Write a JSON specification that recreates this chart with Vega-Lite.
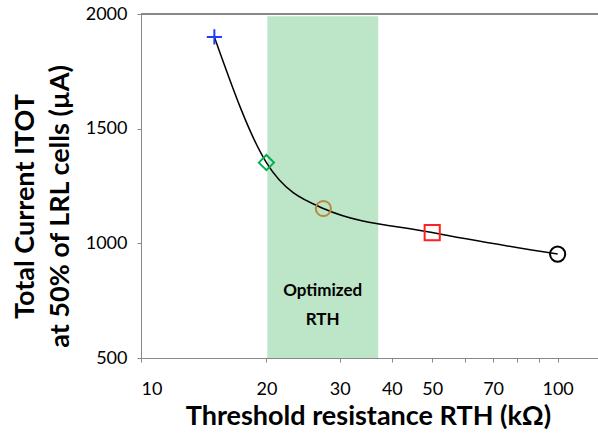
{
  "$schema": "https://vega.github.io/schema/vega-lite/v6.json",
  "autosize": {"type": "none"},
  "padding": {"left": 141, "top": 14, "right": 0, "bottom": 76},
  "width": 457,
  "height": 344,
  "config": {
    "font": "Lato",
    "view": {"stroke": null},
    "axis": {"grid": false, "domainColor": "#888888", "tickColor": "#888888", "labelColor": "#000000", "titleColor": "#000000"}
  },
  "datasets": {
    "pts": [
      {"r": 15, "i": 1900, "kind": "plus"},
      {"r": 20, "i": 1352, "kind": "diamond"},
      {"r": 27.4, "i": 1152, "kind": "circleBrown"},
      {"r": 50, "i": 1047, "kind": "square"},
      {"r": 100, "i": 953, "kind": "circleBlack"}
    ],
    "band": [{"r0": 20.1, "r1": 37.1, "i0": 500, "i1": 1990}],
    "labels": [{"r": 27.3, "i": 790, "label": "Optimized"}, {"r": 27.3, "i": 665, "label": "RTH"}]
  },
  "layer": [
    {
      "data": {"name": "band"},
      "mark": {"type": "rect", "color": "#bde5c8"},
      "encoding": {
        "x": {"field": "r0", "type": "quantitative", "scale": {"type": "log", "domain": [10, 125], "nice": false}},
        "x2": {"field": "r1"},
        "y": {"field": "i0", "type": "quantitative", "scale": {"domain": [500, 2000], "nice": false}},
        "y2": {"field": "i1"}
      }
    },
    {
      "data": {"name": "pts"},
      "mark": {"type": "line", "interpolate": "monotone", "color": "#000000", "strokeWidth": 1.5},
      "encoding": {
        "x": {
          "field": "r", "type": "quantitative",
          "scale": {"type": "log", "domain": [10, 125], "nice": false},
          "axis": {
            "values": [10, 20, 30, 40, 50, 60, 70, 80, 90, 100],
            "format": "d",
            "labelExpr": "indexof([60,80,90], datum.value) >= 0 ? '' : datum.label",
            "labelFontSize": 18, "labelPadding": 18, "tickSize": 4,
            "title": "Threshold resistance RTH (kΩ)",
            "titleFontSize": 27, "titleFontWeight": "bold",
            "titleX": 227, "titleY": 45, "titleAnchor": "middle", "titleBaseline": "top"
          }
        },
        "y": {
          "field": "i", "type": "quantitative",
          "scale": {"domain": [500, 2000], "nice": false},
          "axis": {
            "values": [500, 1000, 1500, 2000],
            "format": "d",
            "labelFontSize": 18, "labelPadding": 10, "tickSize": 4,
            "title": ["Total Current ITOT", "at 50% of LRL cells (µA)"],
            "titleFontSize": 27, "titleFontWeight": "bold", "titlePadding": 11, "titleLineHeight": 35,
            "titleY": 192
          }
        }
      }
    },
    {
      "data": {"name": "pts"},
      "mark": {"type": "point", "filled": false, "strokeWidth": 2, "opacity": 1},
      "encoding": {
        "x": {"field": "r", "type": "quantitative"},
        "y": {"field": "i", "type": "quantitative"},
        "shape": {
          "field": "kind", "type": "nominal",
          "scale": {"domain": ["plus", "diamond", "circleBrown", "square", "circleBlack"], "range": ["M-1,0H1M0,-1V1", "diamond", "circle", "square", "circle"]},
          "legend": null
        },
        "color": {
          "field": "kind", "type": "nominal",
          "scale": {"domain": ["plus", "diamond", "circleBrown", "square", "circleBlack"], "range": ["#1f3cff", "#00b050", "#b8893a", "#ff2020", "#000000"]},
          "legend": null
        },
        "size": {"value": 230}
      }
    },
    {
      "data": {"name": "pts"},
      "mark": {"type": "rule", "color": "#888888", "strokeWidth": 1.5},
      "encoding": {"y": {"datum": 2000}}
    },
    {
      "data": {"name": "labels"},
      "mark": {"type": "text", "fontSize": 17, "fontWeight": "bold", "color": "#000000"},
      "encoding": {
        "x": {"field": "r", "type": "quantitative"},
        "y": {"field": "i", "type": "quantitative"},
        "text": {"field": "label"}
      }
    }
  ]
}
